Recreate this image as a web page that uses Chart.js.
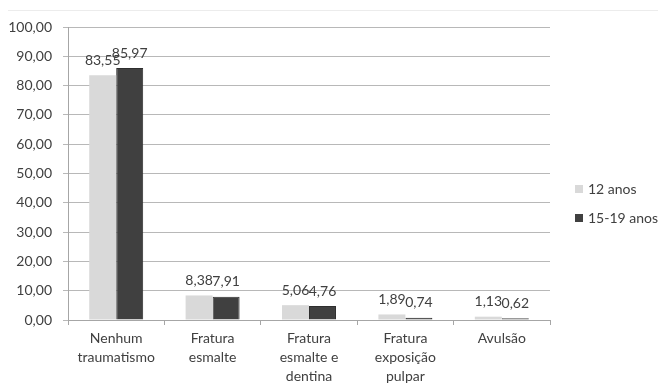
<!DOCTYPE html>
<html>
<head>
<meta charset="utf-8">
<script src="https://cdn.jsdelivr.net/npm/chart.js@4"></script>
<style>
  html, body { margin: 0; padding: 0; background: #fff; }
  #wrap { width: 658px; height: 383px; position: relative; }
</style>
</head>
<body>
<div id="wrap"><canvas id="trauma"></canvas></div>
<script>
const categories = [
  ["Nenhum", "traumatismo"],
  ["Fratura", "esmalte"],
  ["Fratura", "esmalte e", "dentina"],
  ["Fratura", "exposição", "pulpar"],
  ["Avulsão"]
];
const seriesNames = ["12 anos", "15-19 anos"];
const values12 = [83.55, 8.38, 5.06, 1.89, 1.13];
const values1519 = [85.97, 7.91, 4.76, 0.74, 0.62];
const yTicks = [0, 10, 20, 30, 40, 50, 60, 70, 80, 90, 100];

const txtColor = "#404040";
const fontFam = "Lato, 'Noto Sans', sans-serif";
const fmt = (v) => v.toFixed(2).replace(".", ",");

// numbers over the bars
const barValues = {
  id: "barValues",
  afterDatasetsDraw(chart) {
    const { ctx } = chart;
    ctx.save();
    ctx.font = "14px " + fontFam;
    ctx.fillStyle = txtColor;
    ctx.textAlign = "center";
    ctx.textBaseline = "middle";
    chart.data.datasets.forEach((ds, i) => {
      chart.getDatasetMeta(i).data.forEach((bar, j) => {
        ctx.fillText(fmt(ds.data[j]), bar.x, bar.y - 15);
      });
    });
    ctx.restore();
  }
};

// legend on the right, plus the faint top rule
const sideLegend = {
  id: "sideLegend",
  afterDraw(chart) {
    const { ctx, chartArea } = chart;
    ctx.save();
    ctx.strokeStyle = "#ececec";
    ctx.lineWidth = 1;
    ctx.beginPath();
    ctx.moveTo(8, 10.5);
    ctx.lineTo(chart.width, 10.5);
    ctx.stroke();

    ctx.font = "14px " + fontFam;
    ctx.textBaseline = "middle";
    ctx.textAlign = "left";
    const x = chartArea.right + 25;
    chart.data.datasets.forEach((ds, i) => {
      const y = chartArea.top + 162 + i * 29;
      ctx.fillStyle = ds.backgroundColor;
      ctx.fillRect(x, y - 4, 8, 8);
      ctx.fillStyle = txtColor;
      ctx.fillText(ds.label, x + 13, y);
    });
    ctx.restore();
  }
};

new Chart(document.getElementById("trauma"), {
  type: "bar",
  data: {
    labels: categories,
    datasets: [
      {
        label: seriesNames[0],
        data: values12,
        backgroundColor: "#d9d9d9",
        borderWidth: 0,
        categoryPercentage: 0.56,
        barPercentage: 1
      },
      {
        label: seriesNames[1],
        data: values1519,
        backgroundColor: "#404040",
        borderColor: "#2e2e2e",
        borderWidth: 1,
        categoryPercentage: 0.56,
        barPercentage: 1
      }
    ]
  },
  options: {
    responsive: true,
    maintainAspectRatio: false,
    animation: false,
    layout: { padding: { top: 27, right: 108, left: 0, bottom: 0 } },
    plugins: {
      legend: { display: false },
      tooltip: { enabled: false }
    },
    scales: {
      x: {
        grid: {
          drawOnChartArea: false,
          drawTicks: true,
          tickLength: 5,
          color: "#a6a6a6"
        },
        border: { color: "#a6a6a6" },
        ticks: {
          color: txtColor,
          padding: 4,
          maxRotation: 0,
          autoSkip: false,
          font: { family: fontFam, size: 14, lineHeight: 1.36 }
        },
        afterFit: (scale) => { scale.height = 63; }
      },
      y: {
        min: 0,
        max: 100,
        afterBuildTicks: (scale) => { scale.ticks = yTicks.map((v) => ({ value: v })); },
        grid: { color: "#b8b8b8", tickLength: 5 },
        border: { color: "#a6a6a6" },
        ticks: {
          color: txtColor,
          padding: 11,
          callback: (v) => fmt(v),
          font: { family: fontFam, size: 14 }
        },
        afterFit: (scale) => { scale.width = 68; }
      }
    }
  },
  plugins: [barValues, sideLegend]
});
</script>
</body>
</html>
